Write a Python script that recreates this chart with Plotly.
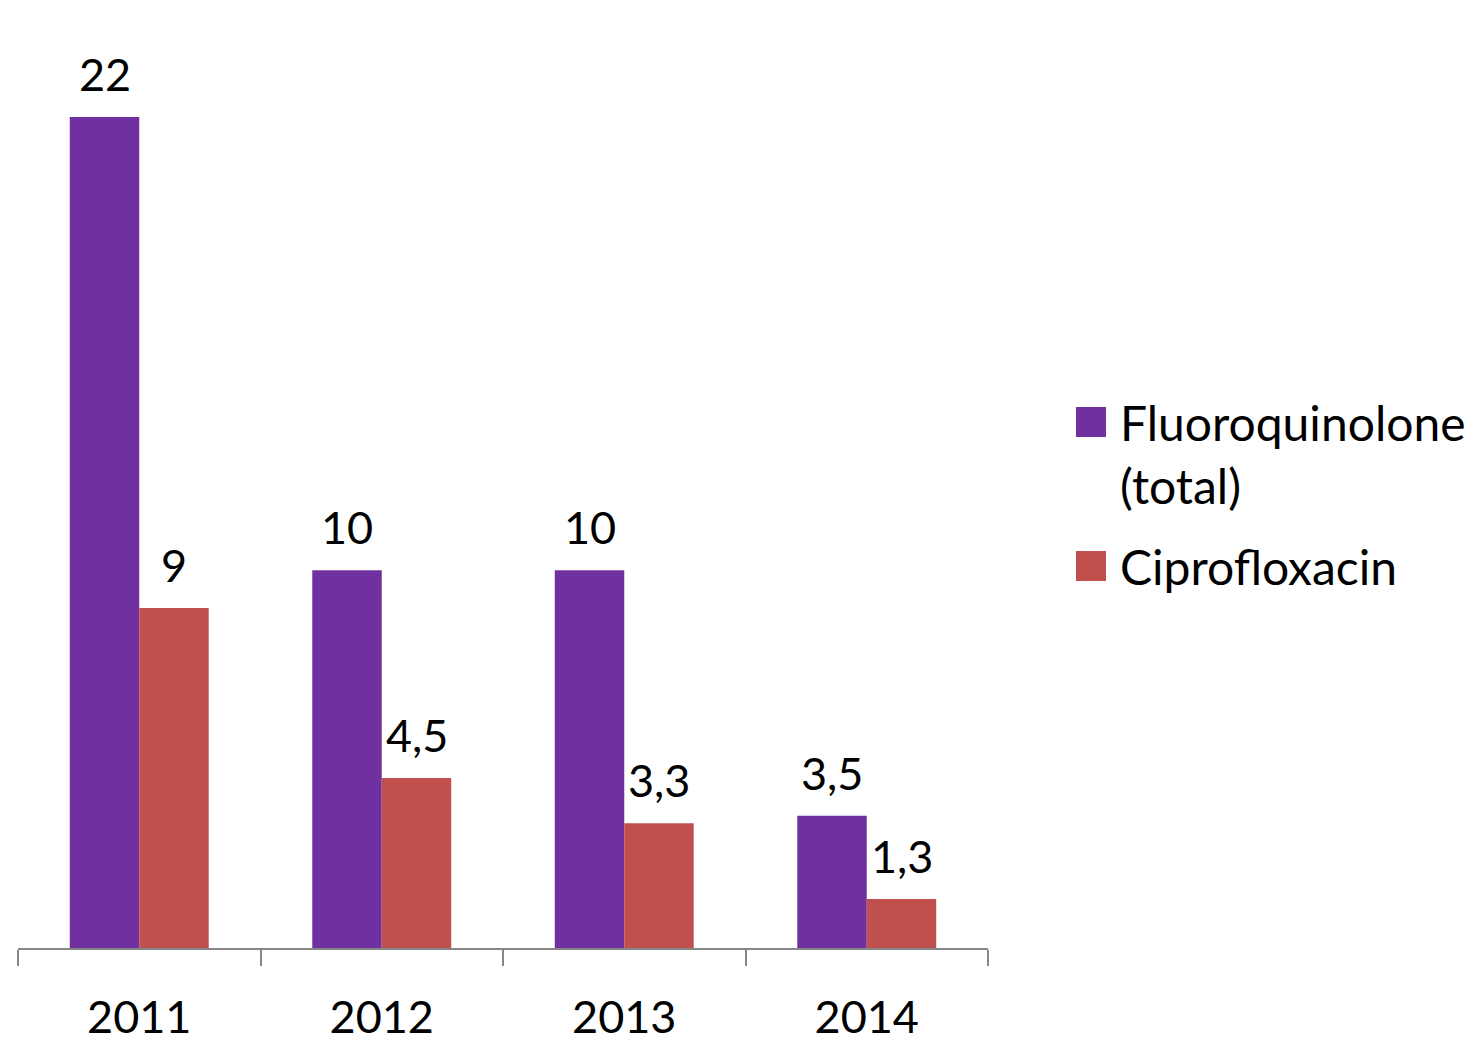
import plotly.graph_objects as go

years = ["2011", "2012", "2013", "2014"]
fluoro = [22, 10, 10, 3.5]
cipro = [9, 4.5, 3.3, 1.3]
colors = ["#7030A0", "#C0504D"]

def fmt(v):
    return str(v).replace(".", ",") if v != int(v) else str(int(v))

FONT = "Lato"
FS = 45
FSL = 48
OFF = 8  # page offset (body margin)

W, H = 1475, 1043
L = 18 - OFF
T = 20 - OFF
axis_y_page = 948
B = H - (axis_y_page - OFF)
pw = 970
R = W - L - pw
ph = H - T - B
px_per_unit = (948 - 117) / 22.0
bar_w = 69.5

fig = go.Figure()
for vals, col, sh in zip([fluoro, cipro], colors, [-bar_w / 2, bar_w / 2]):
    fig.add_trace(go.Bar(
        x=years, y=vals, marker=dict(color=col, line=dict(width=0)),
        showlegend=False, hoverinfo="x+y",
    ))
    for i, v in enumerate(vals):
        fig.add_annotation(x=i, y=v, xref="x", yref="y", text=fmt(v),
                           showarrow=False, xanchor="center", yanchor="bottom",
                           xshift=sh, yshift=14,
                           font=dict(family=FONT, size=FS, color="black"))

def px_x(x):
    return (x - OFF - L) / pw

def px_y(y):
    return (axis_y_page - y) / ph

fig.update_layout(
    width=W, height=H,
    margin=dict(l=L, r=R, t=T, b=B, autoexpand=False),
    paper_bgcolor="white", plot_bgcolor="white",
    barmode="group", bargap=0.427, bargroupgap=0,
    font=dict(family=FONT, size=FS, color="black"),
    xaxis=dict(
        type="category", range=[-0.5, len(years) - 0.5], automargin=False,
        showline=True, linecolor="#878787", linewidth=2, tickangle=0,
        ticks="outside", tickson="boundaries", ticklen=16, tickwidth=2, tickcolor="#878787",
        tickfont=dict(family=FONT, size=FS, color="black"), showgrid=False,
        ticklabelstandoff=29,
    ),
    yaxis=dict(range=[0, ph / px_per_unit], visible=False, showgrid=False, automargin=False),
)

legend_y = [422, 566]
for col, yc in zip(colors, legend_y):
    fig.add_shape(type="rect", xref="paper", yref="paper",
                  x0=px_x(1076), x1=px_x(1106), y0=px_y(yc + 15), y1=px_y(yc - 15),
                  fillcolor=col, line=dict(width=0))
lines = [("Fluoroquinolones", 422), ("(total)", 485), ("Ciprofloxacin", 566)]
for txt, yc in lines:
    fig.add_annotation(text=txt, xref="paper", yref="paper", x=px_x(1118), y=px_y(yc),
                       xanchor="left", yanchor="middle", showarrow=False,
                       font=dict(family=FONT, size=FSL, color="black"))

fig.write_html("out.html")
